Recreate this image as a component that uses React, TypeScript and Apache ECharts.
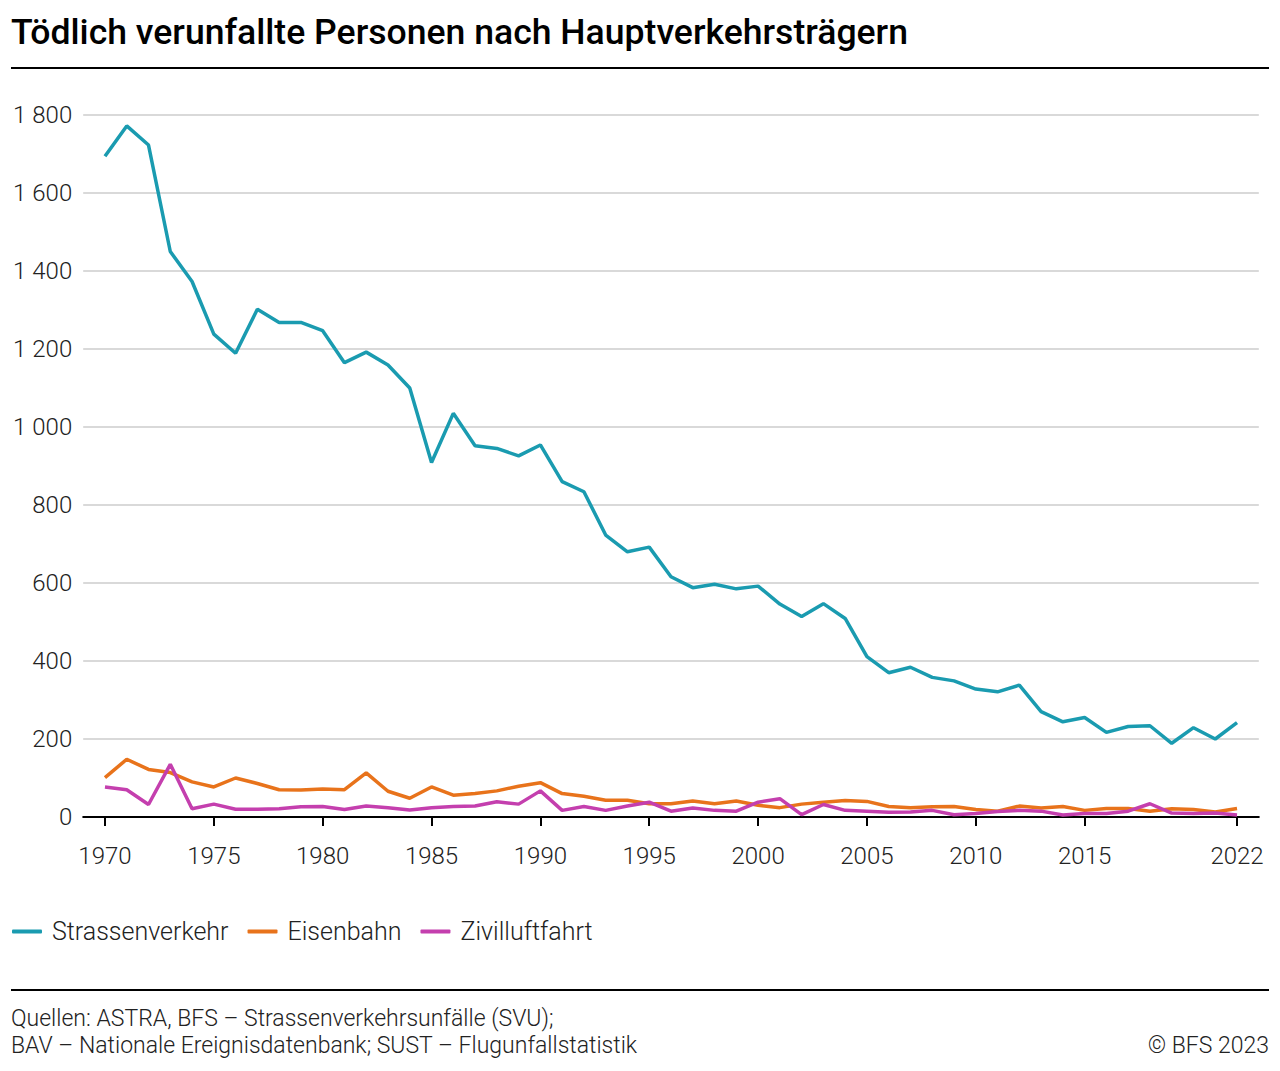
import React, { useEffect, useRef } from "react";
import * as echarts from "echarts";

const years: number[] = [
  1970, 1971, 1972, 1973, 1974, 1975, 1976, 1977, 1978, 1979,
  1980, 1981, 1982, 1983, 1984, 1985, 1986, 1987, 1988, 1989,
  1990, 1991, 1992, 1993, 1994, 1995, 1996, 1997, 1998, 1999,
  2000, 2001, 2002, 2003, 2004, 2005, 2006, 2007, 2008, 2009,
  2010, 2011, 2012, 2013, 2014, 2015, 2016, 2017, 2018, 2019,
  2020, 2021, 2022,
];

const strassenverkehr: number[] = [
  1694, 1772, 1723, 1450, 1373, 1238, 1189, 1302, 1268, 1268,
  1247, 1165, 1192, 1159, 1100, 909, 1035, 952, 945, 926,
  954, 860, 834, 723, 680, 692, 616, 588, 597, 585,
  592, 546, 514, 547, 509, 411, 370, 384, 358, 349,
  328, 321, 338, 270, 244, 255, 217, 232, 234, 189,
  229, 200, 242,
];

const eisenbahn: number[] = [
  101, 148, 122, 114, 90, 77, 100, 86, 70, 69,
  72, 70, 113, 66, 48, 77, 56, 60, 67, 79,
  88, 60, 53, 43, 43, 34, 34, 41, 34, 41,
  30, 24, 33, 38, 42, 40, 27, 24, 26, 27,
  19, 15, 28, 23, 27, 17, 22, 22, 15, 21,
  19, 13, 22,
];

const zivilluftfahrt: number[] = [
  77, 70, 32, 135, 21, 33, 20, 20, 21, 26,
  27, 19, 28, 24, 18, 24, 27, 28, 39, 33,
  67, 17, 27, 17, 28, 38, 15, 23, 17, 15,
  38, 47, 6, 32, 17, 15, 12, 13, 17, 6,
  9, 14, 17, 15, 5, 9, 9, 15, 34, 10,
  9, 10, 5,
];

const xTickYears: number[] = [1970, 1975, 1980, 1985, 1990, 1995, 2000, 2005, 2010, 2015, 2022];

const seriesNames: string[] = ["Strassenverkehr", "Eisenbahn", "Zivilluftfahrt"];
const seriesColors: string[] = ["#1a9bb0", "#e8731b", "#c43fae"];

const titleText = "Tödlich verunfallte Personen nach Hauptverkehrsträgern";
const sourceLine1 = "Quellen: ASTRA, BFS – Strassenverkehrsunfälle (SVU);";
const sourceLine2 = "BAV – Nationale Ereignisdatenbank; SUST – Flugunfallstatistik";
const copyright = "© BFS 2023";

const FONT = "Roboto, 'Noto Sans', sans-serif";

function fmtThousands(v: number): string {
  if (v >= 1000) {
    const th = Math.floor(v / 1000);
    const rest = String(v % 1000).padStart(3, "0");
    return `${th} ${rest}`;
  }
  return String(v);
}

export default function App() {
  const ref = useRef<HTMLDivElement>(null);

  useEffect(() => {
    document.body.style.margin = "0";
    if (!ref.current) return;
    const chart = echarts.init(ref.current, null, { renderer: "svg" });
    const allSeries = [strassenverkehr, eisenbahn, zivilluftfahrt];

    chart.setOption({
      animation: false,
      backgroundColor: "#ffffff",
      grid: {
        left: 83.2,
        right: 21.2,
        top: 115,
        bottom: 1071 - 817,
        containLabel: false,
      },
      legend: {
        top: 914,
        left: 7,
        icon: "roundRect",
        itemWidth: 30,
        itemHeight: 4,
        itemGap: 19,
        data: seriesNames,
        textStyle: {
          fontFamily: FONT,
          fontSize: 25,
          color: "#222222",
          fontWeight: 300,
          padding: [0, 0, 0, 5],
        },
      },
      xAxis: {
        type: "value",
        min: 1969,
        max: 2023,
        axisLine: { show: true, lineStyle: { color: "#000000", width: 2 } },
        axisTick: {
          show: true,
          customValues: xTickYears,
          length: 9,
          lineStyle: { color: "#000000", width: 2 },
        },
        axisLabel: {
          customValues: xTickYears,
          fontFamily: FONT,
          fontSize: 24,
          fontWeight: 300,
          color: "#222222",
          margin: 27,
          formatter: (v: number) => String(v),
        },
        splitLine: { show: false },
      },
      yAxis: {
        type: "value",
        min: 0,
        max: 1800,
        interval: 200,
        axisLine: { show: false },
        axisTick: { show: false },
        axisLabel: {
          fontFamily: FONT,
          fontSize: 24,
          fontWeight: 300,
          color: "#222222",
          margin: 11,
          formatter: (v: number) => fmtThousands(v),
        },
        splitLine: { show: true, lineStyle: { color: "#cccccc", width: 1.5 } },
      },
      series: seriesNames.map((name, i) => ({
        name,
        type: "line",
        symbol: "none",
        color: seriesColors[i],
        lineStyle: { width: 3.5, color: seriesColors[i] },
        data: years.map((y, j) => [y, allSeries[i][j]]),
      })),
      graphic: [
        {
          type: "text",
          left: 11,
          top: 14,
          style: {
            text: titleText,
            fontFamily: FONT,
            fontSize: 35.6,
            fontWeight: 500,
            fill: "#000000",
          },
        },
        {
          type: "line",
          shape: { x1: 11, y1: 68, x2: 1269, y2: 68 },
          style: { stroke: "#000000", lineWidth: 2 },
        },
        {
          type: "line",
          shape: { x1: 11, y1: 990, x2: 1269, y2: 990 },
          style: { stroke: "#000000", lineWidth: 2 },
        },
        {
          type: "text",
          left: 11,
          top: 1007,
          style: {
            text: sourceLine1,
            fontFamily: FONT,
            fontSize: 23,
            fontWeight: 300,
            fill: "#222222",
          },
        },
        {
          type: "text",
          left: 11,
          top: 1034,
          style: {
            text: sourceLine2,
            fontFamily: FONT,
            fontSize: 23,
            fontWeight: 300,
            fill: "#222222",
          },
        },
        {
          type: "text",
          right: 11,
          top: 1034,
          style: {
            text: copyright,
            fontFamily: FONT,
            fontSize: 23,
            fontWeight: 300,
            fill: "#222222",
          },
        },
      ],
    });

    return () => {
      chart.dispose();
    };
  }, []);

  return <div ref={ref} style={{ width: 1280, height: 1071 }} />;
}
